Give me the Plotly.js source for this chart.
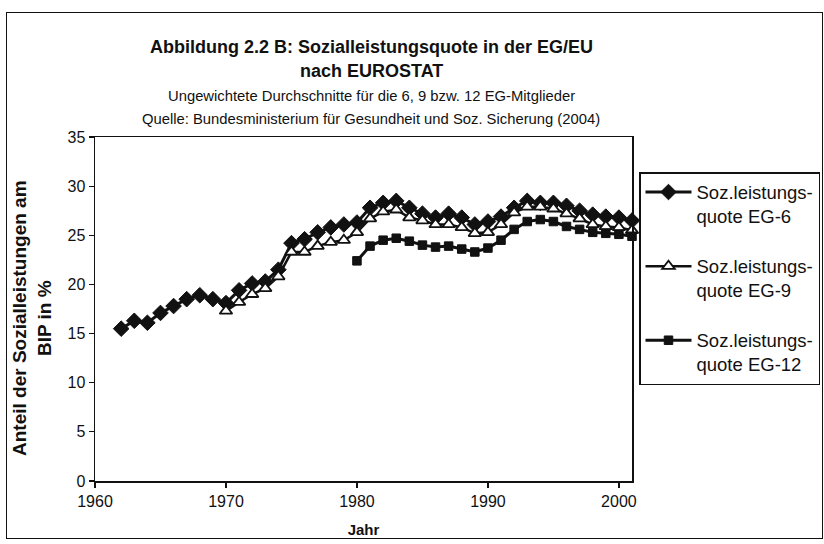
<!DOCTYPE html>
<html>
<head>
<meta charset="utf-8">
<script src="https://cdn.plot.ly/plotly-3.0.1.min.js"></script>
<style>
  html, body { margin: 0; padding: 0; background: #fff; }
  #wrap { position: relative; width: 824px; height: 544px; }
  #chart { position: absolute; left: 0; top: 0; width: 824px; height: 544px; }
  #frame { position: absolute; left: 6px; top: 12px; width: 815px; height: 525px;
           border: 1.5px solid #111; pointer-events: none; }
</style>
</head>
<body>
<div id="wrap">
  <div id="chart"></div>
  <div id="frame"></div>
</div>
<script>
// Years
const years6 = [1962,1963,1964,1965,1966,1967,1968,1969,1970,1971,1972,1973,1974,1975,1976,1977,1978,1979,1980,1981,1982,1983,1984,1985,1986,1987,1988,1989,1990,1991,1992,1993,1994,1995,1996,1997,1998,1999,2000,2001];
const quoteEG6 = [15.5,16.3,16.1,17.1,17.8,18.5,18.9,18.5,18.1,19.4,20.1,20.3,21.5,24.2,24.6,25.3,25.8,26.1,26.3,27.8,28.3,28.5,27.8,27.2,26.8,27.2,26.8,26.1,26.4,26.9,27.8,28.5,28.3,28.3,28.0,27.5,27.1,26.9,26.8,26.5];

const years9 = [1970,1971,1972,1973,1974,1975,1976,1977,1978,1979,1980,1981,1982,1983,1984,1985,1986,1987,1988,1989,1990,1991,1992,1993,1994,1995,1996,1997,1998,1999,2000,2001];
const quoteEG9 = [17.3,18.2,19.0,19.6,20.8,23.3,23.3,23.9,24.3,24.5,25.3,26.7,27.4,27.6,26.8,26.5,26.1,26.1,25.8,25.2,25.3,26.1,27.3,27.9,27.9,27.7,27.2,26.7,26.1,25.9,25.8,25.5];

const years12 = [1980,1981,1982,1983,1984,1985,1986,1987,1988,1989,1990,1991,1992,1993,1994,1995,1996,1997,1998,1999,2000,2001];
const quoteEG12 = [22.4,23.9,24.5,24.7,24.4,24.0,23.8,23.9,23.6,23.3,23.7,24.5,25.6,26.4,26.6,26.4,25.9,25.6,25.3,25.2,25.1,24.9];

const seriesNames = ["Soz.leistungs-<br>quote EG-6", "Soz.leistungs-<br>quote EG-9", "Soz.leistungs-<br>quote EG-12"];
const xTickVals = [1960, 1970, 1980, 1990, 2000];
const yTickVals = [0, 5, 10, 15, 20, 25, 30, 35];

const FONT = "Liberation Sans, Arial, sans-serif";
const INK = "#111111";

const traces = [
  {
    x: years6, y: quoteEG6, name: seriesNames[0], legendgroup: "g6",
    type: "scatter", mode: "lines+markers",
    line: { color: INK, width: 3 },
    marker: { symbol: "diamond", size: 12, color: INK, line: { color: INK, width: 1 } },
    cliponaxis: false
  },
  {
    x: years9, y: quoteEG9, name: seriesNames[1], legendgroup: "g9",
    type: "scatter", mode: "lines+markers",
    line: { color: INK, width: 2.5 },
    marker: { symbol: "triangle-up", size: 11, color: "#ffffff", line: { color: INK, width: 1.8 } },
    cliponaxis: false
  },
  {
    x: years12, y: quoteEG12, name: seriesNames[2], legendgroup: "g12",
    type: "scatter", mode: "lines+markers",
    line: { color: INK, width: 3 },
    marker: { symbol: "square", size: 8.5, color: INK, line: { color: INK, width: 1 } },
    cliponaxis: false
  }
];

const L = 95, R = 632, T = 137, B = 481;
const W = 824, H = 544;
const px = (x) => (x - L) / (R - L);
const py = (y) => (B - y) / (B - T);

const layout = {
  width: W, height: H,
  margin: { l: L, r: W - R, t: T, b: H - B, pad: 0, autoexpand: false },
  paper_bgcolor: "#ffffff",
  plot_bgcolor: "#ffffff",
  font: { family: FONT, color: INK, size: 14 },
  showlegend: true,
  xaxis: {
    range: [1960, 2001],
    tickvals: xTickVals,
    ticktext: xTickVals.map(String),
    ticks: "outside", ticklen: 5, tickwidth: 1.2, tickcolor: INK,
    showline: true, linecolor: INK, linewidth: 1.5, mirror: true,
    showgrid: false, zeroline: false,
    tickfont: { family: FONT, size: 16, color: INK },
    title: { text: "<b>Jahr</b>", font: { family: FONT, size: 15, color: INK }, standoff: 16 }
  },
  yaxis: {
    range: [0, 35],
    tickvals: yTickVals,
    ticks: "outside", ticklen: 5, tickwidth: 1.2, tickcolor: INK,
    showline: true, linecolor: INK, linewidth: 1.5, mirror: true,
    showgrid: false, zeroline: false,
    tickfont: { family: FONT, size: 16, color: INK }
  },
  legend: {
    x: px(639), y: py(172), xanchor: "left", yanchor: "top",
    bordercolor: INK, borderwidth: 1.5, bgcolor: "#ffffff",
    font: { family: FONT, size: 18.5, color: INK },
    valign: "top",
    tracegroupgap: 23,
    itemwidth: 46
  },
  annotations: [
    { text: "<b>Abbildung 2.2 B: Sozialleistungsquote in der EG/EU</b>", xref: "paper", yref: "paper",
      x: px(371), y: py(47), xanchor: "center", yanchor: "middle", showarrow: false,
      font: { family: FONT, size: 18, color: INK } },
    { text: "<b>nach EUROSTAT</b>", xref: "paper", yref: "paper",
      x: px(371), y: py(71), xanchor: "center", yanchor: "middle", showarrow: false,
      font: { family: FONT, size: 18, color: INK } },
    { text: "Ungewichtete Durchschnitte für die 6, 9 bzw. 12 EG-Mitglieder", xref: "paper", yref: "paper",
      x: px(371), y: py(96), xanchor: "center", yanchor: "middle", showarrow: false,
      font: { family: FONT, size: 14.8, color: INK } },
    { text: "Quelle: Bundesministerium für Gesundheit und Soz. Sicherung (2004)", xref: "paper", yref: "paper",
      x: px(371), y: py(119), xanchor: "center", yanchor: "middle", showarrow: false,
      font: { family: FONT, size: 14.8, color: INK } },
    { text: "<b>Anteil der Sozialleistungen am<br>BIP in %</b>", xref: "paper", yref: "paper",
      x: px(32), y: py(318), xanchor: "center", yanchor: "middle", showarrow: false, textangle: -90,
      font: { family: FONT, size: 19, color: INK } }
  ]
};

Plotly.newPlot("chart", traces, layout, { displayModeBar: false, staticPlot: true });
</script>
</body>
</html>
